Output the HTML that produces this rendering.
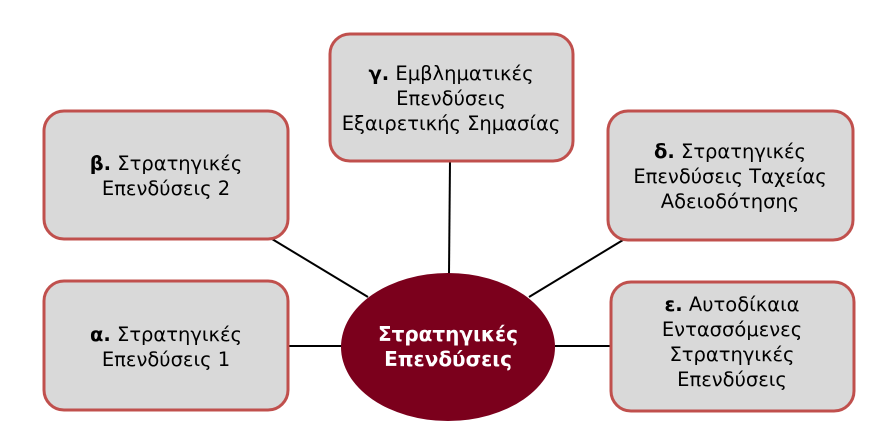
<!DOCTYPE html>
<html><head><meta charset="utf-8"><style>
html,body{margin:0;padding:0;background:#fff;}
svg{display:block;}
text{font-family:"DejaVu Sans","Liberation Sans",sans-serif;font-size:19.5px;fill:#000;text-anchor:middle;}
</style></head><body>
<svg width="895" height="448" viewBox="0 0 895 448">
<g stroke="#000" stroke-width="2">
<line x1="272" y1="239" x2="368" y2="297"/>
<line x1="450" y1="161" x2="449" y2="274"/>
<line x1="623" y1="240" x2="529" y2="297"/>
<line x1="288" y1="346" x2="342" y2="346"/>
<line x1="555" y1="346" x2="611" y2="346"/>
</g>
<g fill="#d9d9d9" stroke="#c0504d" stroke-width="3">
<rect x="44" y="111" width="244" height="128" rx="20"/>
<rect x="44" y="281" width="244" height="129" rx="20"/>
<rect x="330" y="34" width="243" height="127" rx="20"/>
<rect x="608" y="111" width="245" height="129" rx="20"/>
<rect x="611" y="282" width="243" height="129" rx="20"/>
</g>
<ellipse cx="448" cy="347" rx="107" ry="74" fill="#7b001c"/>
<text x="166" y="170"><tspan font-weight="bold">β.</tspan> Στρατηγικές</text>
<text x="166" y="195">Επενδύσεις 2</text>
<text x="166" y="341"><tspan font-weight="bold">α.</tspan> Στρατηγικές</text>
<text x="166" y="366">Επενδύσεις 1</text>
<text x="451" y="80"><tspan font-weight="bold">γ.</tspan> Εμβληματικές</text>
<text x="451" y="105">Επενδύσεις</text>
<text x="451" y="130">Εξαιρετικής Σημασίας</text>
<text x="730" y="158"><tspan font-weight="bold">δ.</tspan> Στρατηγικές</text>
<text x="730" y="183">Επενδύσεις Ταχείας</text>
<text x="730" y="208">Αδειοδότησης</text>
<text x="732" y="311"><tspan font-weight="bold">ε.</tspan> Αυτοδίκαια</text>
<text x="732" y="336">Εντασσόμενες</text>
<text x="732" y="361">Στρατηγικές</text>
<text x="732" y="386">Επενδύσεις</text>
<text x="448" y="341" style="fill:#fff;font-weight:bold;font-size:20px">Στρατηγικές</text>
<text x="448" y="366" style="fill:#fff;font-weight:bold;font-size:20px">Επενδύσεις</text>
</svg>
</body></html>
